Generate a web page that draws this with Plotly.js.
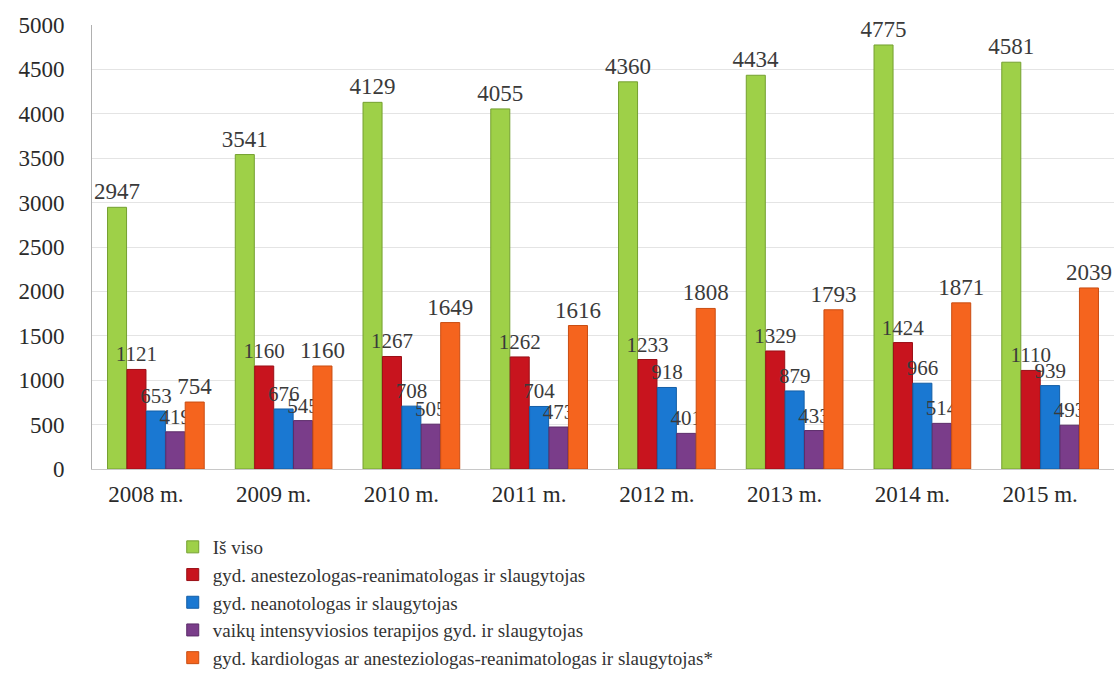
<!DOCTYPE html>
<html>
<head>
<meta charset="utf-8">
<script src="https://cdn.plot.ly/plotly-3.0.1.min.js"></script>
<style>html,body{margin:0;padding:0;background:#fff;}#chart{width:1114px;height:677px;}</style>
</head>
<body>
<div id="chart"></div>
<script>
const years = ["2008 m.", "2009 m.", "2010 m.", "2011 m.", "2012 m.", "2013 m.", "2014 m.", "2015 m."];
const isViso = [2947, 3541, 4129, 4055, 4360, 4434, 4775, 4581];
const anestezologas = [1121, 1160, 1267, 1262, 1233, 1329, 1424, 1110];
const neonatologas = [653, 676, 708, 704, 918, 879, 966, 939];
const vaikuIntensyvi = [419, 545, 505, 473, 401, 433, 514, 493];
const kardiologas = [754, 1160, 1649, 1616, 1808, 1793, 1871, 2039];
const seriesNames = [
  "Iš viso",
  "gyd. anestezologas-reanimatologas ir slaugytojas",
  "gyd. neanotologas ir slaugytojas",
  "vaikų intensyviosios terapijos gyd. ir slaugytojas",
  "gyd. kardiologas ar anesteziologas-reanimatologas ir slaugytojas*"
];
const seriesValues = [isViso, anestezologas, neonatologas, vaikuIntensyvi, kardiologas];
const colors = ["#9ed048", "#c8141e", "#1a78d2", "#7a3d8a", "#f5641e"];
const edge = ["#74a030", "#9a0f16", "#135ea6", "#5c2c69", "#c94d12"];
const fontFam = "Liberation Serif, Times New Roman, serif";

const traces = seriesValues.map((vals, i) => ({
  type: "bar",
  name: seriesNames[i],
  x: years,
  y: vals,
  marker: {color: colors[i], line: {color: edge[i], width: 1}},
  text: vals.map(String),
  textposition: "outside",
  cliponaxis: false,
  constraintext: "none",
  textfont: {family: fontFam, size: i === 0 || i === 4 ? 23 : 21, color: "#3a3a3a"},
  hoverinfo: "x+y+name"
}));

const layout = {
  width: 1114, height: 677,
  margin: {l: 92, r: 0, t: 25, b: 200},
  paper_bgcolor: "#ffffff",
  plot_bgcolor: "#ffffff",
  barmode: "group",
  bargap: 0.24,
  bargroupgap: 0.02,
  showlegend: true,
  legend: {
    x: 0.079, y: -0.133, xanchor: "left", yanchor: "top",
    orientation: "v",
    font: {family: fontFam, size: 19, color: "#333"},
    tracegroupgap: 0,
    itemwidth: 30,
    bgcolor: "rgba(0,0,0,0)"
  },
  xaxis: {
    type: "category",
    tickfont: {family: fontFam, size: 23, color: "#2a2a2a"},
    showline: true, linecolor: "#c8c8c8", linewidth: 1,
    ticks: "", showgrid: false,
    ticklabelshift: -10,
    ticklabelstandoff: 4
  },
  yaxis: {
    range: [0, 5000],
    dtick: 500,
    tickfont: {family: fontFam, size: 23, color: "#2a2a2a"},
    showgrid: true, gridcolor: "#e4e4e4", gridwidth: 1,
    showline: true, linecolor: "#b0b0b0", linewidth: 1,
    ticks: "", ticklen: 0,
    ticklabelstandoff: 22,
    zeroline: false
  }
};

Plotly.newPlot("chart", traces, layout, {displayModeBar: false, staticPlot: true});
</script>
</body>
</html>
